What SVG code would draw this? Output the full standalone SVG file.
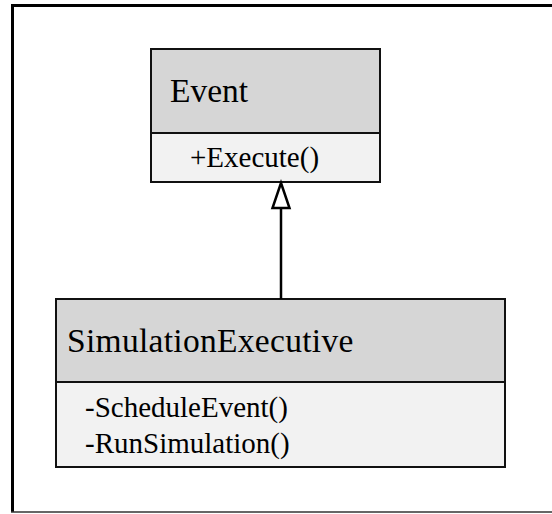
<svg xmlns="http://www.w3.org/2000/svg" width="552" height="514" viewBox="0 0 552 514">
<style>
.hdr{fill:#d6d6d6;stroke:#111;stroke-width:2}
.bdy{fill:#f2f2f2;stroke:#111;stroke-width:2}
.t{font-family:"Liberation Serif",serif;fill:#000}
.title{font-size:33.5px}
.m{font-size:29px}
.conn{stroke:#000;stroke-width:2.5;fill:none}
</style>
<rect width="552" height="514" fill="#fff"/>
<g id="frame">
<line x1="12.5" y1="5.5" x2="560" y2="5.5" stroke="#000" stroke-width="3"/>
<line x1="12.5" y1="4" x2="12.5" y2="512" stroke="#000" stroke-width="3"/>
<line x1="11" y1="512" x2="560" y2="512" stroke="#333" stroke-width="1.5"/>
</g>
<g id="event">
<rect class="hdr" x="151" y="49" width="229" height="84"/>
<rect class="bdy" x="151" y="133" width="229" height="49"/>
<text class="t title" x="170" y="102">Event</text>
<text class="t m" x="190" y="167">+Execute()</text>
</g>
<g id="simulationexecutive">
<rect class="hdr" x="56" y="299" width="449" height="83"/>
<rect class="bdy" x="56" y="382" width="449" height="85"/>
<text class="t title" x="67" y="352" letter-spacing="0.3">SimulationExecutive</text>
<text class="t m" x="85" y="417">-ScheduleEvent()</text>
<text class="t m" x="85" y="453">-RunSimulation()</text>
</g>
<g id="connectors">
<line class="conn" x1="281" y1="208" x2="281" y2="299"/>
<polygon points="281,183 272.5,208 289.5,208" fill="#fff" stroke="#000" stroke-width="2.5" stroke-linejoin="miter"/>
</g>
</svg>
